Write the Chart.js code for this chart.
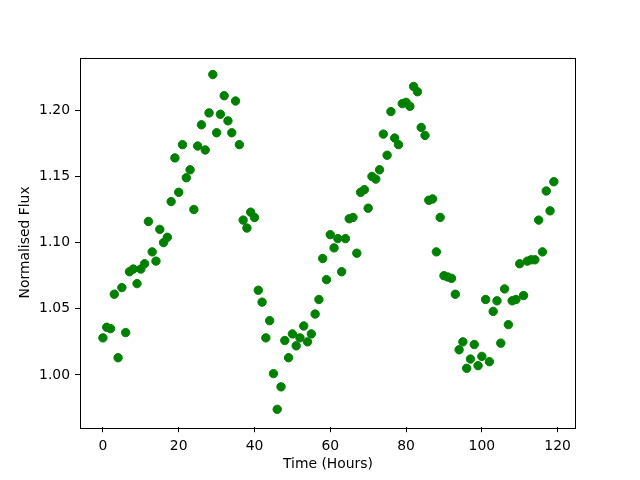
<!DOCTYPE html>
<html>
<head>
<meta charset="utf-8">
<script src="https://cdn.jsdelivr.net/npm/chart.js@4/dist/chart.umd.min.js"></script>
<style>
html,body{margin:0;padding:0;background:#fff;}
canvas{display:block;}
</style>
</head>
<body>
<canvas id="c" width="640" height="480"></canvas>
<script>
const timeHours = [
  0,1,2,3,4,5,6,7,8,9,10,11,12,13,14,15,16,17,18,19,
  20,21,22,23,24,25,26,27,28,29,30,31,32,33,34,35,36,37,38,39,
  40,41,42,43,44,45,46,47,48,49,50,51,52,53,54,55,56,57,58,59,
  60,61,62,63,64,65,66,67,68,69,70,71,72,73,74,75,76,77,78,79,
  80,81,82,83,84,85,86,87,88,89,90,91,92,93,94,95,96,97,98,99,
  100,101,102,103,104,105,106,107,108,109,110,111,112,113,114,115,116,117,118,119
];
const normalisedFlux = [
  1.028,1.036,1.035,1.061,1.013,1.066,1.032,1.078,1.080,1.069,
  1.080,1.084,1.116,1.093,1.086,1.110,1.100,1.104,1.131,1.164,
  1.138,1.174,1.149,1.155,1.125,1.173,1.189,1.170,1.198,1.227,
  1.183,1.197,1.211,1.192,1.183,1.207,1.174,1.117,1.111,1.123,
  1.119,1.064,1.055,1.028,1.041,1.001,0.974,0.991,1.026,1.013,
  1.031,1.022,1.028,1.037,1.025,1.031,1.046,1.057,1.088,1.072,
  1.106,1.096,1.103,1.078,1.103,1.118,1.119,1.092,1.138,1.140,
  1.126,1.150,1.148,1.155,1.182,1.166,1.199,1.179,1.174,1.205,
  1.206,1.203,1.218,1.214,1.187,1.181,1.132,1.133,1.093,1.119,
  1.075,1.074,1.073,1.061,1.019,1.025,1.005,1.012,1.023,1.007,
  1.014,1.057,1.010,1.048,1.056,1.024,1.065,1.038,1.056,1.057,
  1.084,1.060,1.086,1.087,1.087,1.117,1.093,1.139,1.124,1.146
];
const xTickValues = [0,20,40,60,80,100,120];
const yTickValues = [1.00,1.05,1.10,1.15,1.20];

const FONT = "'DejaVu Sans', sans-serif";

const framePlugin = {
  id: 'frame',
  afterDraw(chart) {
    const {ctx, chartArea: a} = chart;
    ctx.save();
    ctx.strokeStyle = '#000';
    ctx.lineWidth = 1;
    ctx.strokeRect(Math.round(a.left) + 0.5, Math.round(a.top) + 0.5,
                   Math.round(a.right - a.left) - 1, Math.round(a.bottom - a.top));
    ctx.restore();
  }
};

new Chart(document.getElementById('c'), {
  type: 'scatter',
  data: {
    datasets: [{
      data: timeHours.map((t, i) => ({x: t, y: normalisedFlux[i]})),
      backgroundColor: '#008000',
      borderColor: '#008000',
      borderWidth: 1,
      pointRadius: 4.2,
      pointHoverRadius: 4.2
    }]
  },
  plugins: [framePlugin],
  options: {
    responsive: false,
    animation: false,
    devicePixelRatio: 1,
    layout: {padding: {left: 0, top: 57.6, right: 64, bottom: 0}},
    plugins: {legend: {display: false}, tooltip: {enabled: false}},
    scales: {
      x: {
        type: 'linear',
        min: -6.05,
        max: 124.85,
        afterBuildTicks: s => { s.ticks = xTickValues.map(v => ({value: v})); },
        afterFit: s => { s.height = 52.8; },
        border: {display: false},
        grid: {drawOnChartArea: false, drawTicks: true, tickLength: 5, tickColor: '#000', tickWidth: 1},
        ticks: {color: '#000', padding: 6, maxRotation: 0, font: {family: FONT, size: 13.9},
                callback: v => String(v)},
        title: {display: true, text: 'Time (Hours)', color: '#000',
                font: {family: FONT, size: 13.9}, padding: {top: 0, bottom: 7}}
      },
      y: {
        type: 'linear',
        min: 0.9605,
        max: 1.2398,
        afterBuildTicks: s => { s.ticks = yTickValues.map(v => ({value: v})); },
        afterFit: s => { s.width = 80; },
        border: {display: false},
        grid: {drawOnChartArea: false, drawTicks: true, tickLength: 5, tickColor: '#000', tickWidth: 1},
        ticks: {color: '#000', padding: 5, font: {family: FONT, size: 13.9},
                callback: v => v.toFixed(2)},
        title: {display: true, text: 'Normalised Flux', color: '#000',
                font: {family: FONT, size: 13.9}, padding: {top: 17, bottom: 0}}
      }
    }
  }
});
</script>
</body>
</html>
